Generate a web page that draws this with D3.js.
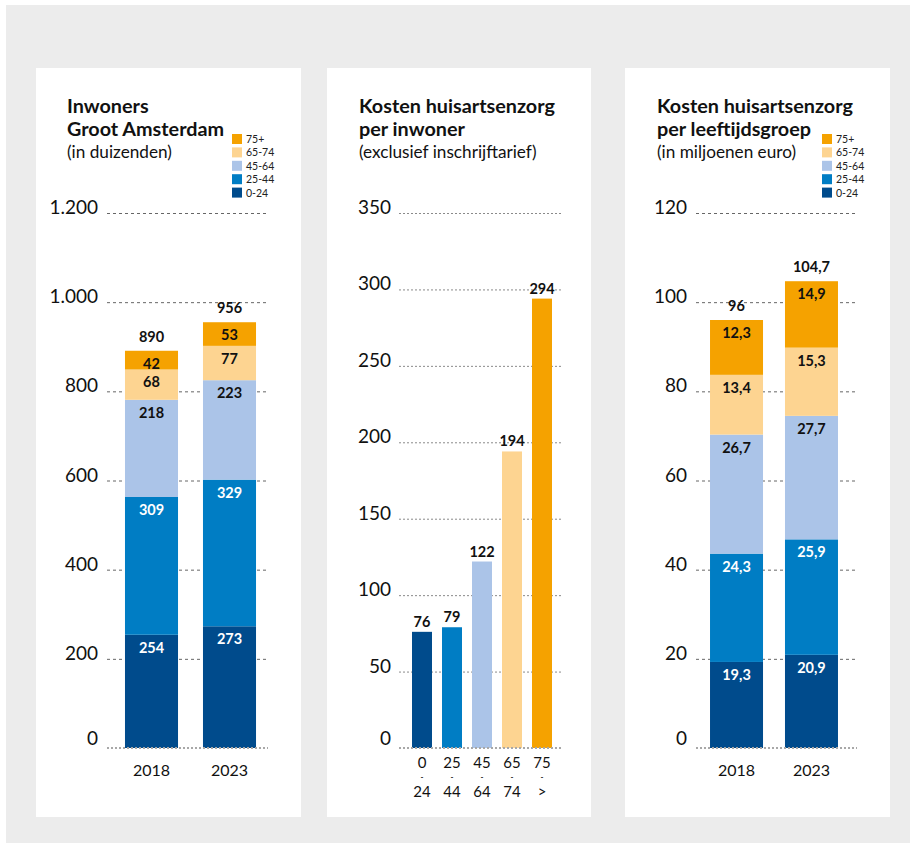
<!DOCTYPE html>
<html>
<head>
<meta charset="utf-8">
<script src="https://cdn.jsdelivr.net/npm/d3@7/dist/d3.min.js"></script>
<style>
  html, body { margin: 0; padding: 0; background: #fff; }
  svg { display: block; font-family: Lato, "Open Sans", sans-serif; }
</style>
</head>
<body>
<svg id="chart" width="910" height="843"></svg>
<script>
// ---------- DATA ----------
const ageGroups = ["0-24", "25-44", "45-64", "65-74", "75+"];
const years = ["2018", "2023"];

// Panel 1: Inwoners Groot Amsterdam (in duizenden)
const inwoners2018 = [254, 309, 218, 68, 42];
const inwoners2023 = [273, 329, 223, 77, 53];
const inwonersTotals = [890, 956];
const inwonersTicks = [0, 200, 400, 600, 800, 1000, 1200];

// Panel 2: Kosten huisartsenzorg per inwoner
const kostenPerInwoner = [76, 79, 122, 194, 294];
const perInwonerLabels = [["0", "24"], ["25", "44"], ["45", "64"], ["65", "74"], ["75", ">"]];
const perInwonerTicks = [0, 50, 100, 150, 200, 250, 300, 350];

// Panel 3: Kosten per leeftijdsgroep (in miljoenen euro)
const kosten2018 = [19.3, 24.3, 26.7, 13.4, 12.3];
const kosten2023 = [20.9, 25.9, 27.7, 15.3, 14.9];
const kostenTotals = [96, 104.7];
const kostenTicks = [0, 20, 40, 60, 80, 100, 120];

// ---------- STYLE ----------
const colors = {"0-24": "#004b8c", "25-44": "#007dc4", "45-64": "#abc4e8", "65-74": "#fdd491", "75+": "#f5a200"};
const labelColor = {"0-24": "#fff", "25-44": "#fff", "45-64": "#111", "65-74": "#111", "75+": "#111"};

const nl = d3.formatLocale({decimal: ",", thousands: ".", grouping: [3], currency: ["€", ""]});
const fmtInt = nl.format(",d");
const fmtDec = nl.format(",.1f");
const fmtTot = nl.format(",.1~f");

const svg = d3.select("#chart");

// background
svg.append("rect").attr("x", 6).attr("y", 5).attr("width", 904).attr("height", 838).attr("fill", "#ececec");

const panels = [{x: 36, w: 265}, {x: 327, w: 264}, {x: 625, w: 265}];
panels.forEach(p => svg.append("rect").attr("x", p.x).attr("y", 68).attr("width", p.w).attr("height", 749).attr("fill", "#fff"));

const y0 = 748, yTop = 213;

function titles(x, lines, sub) {
  const g = svg.append("g");
  lines.forEach((t, i) => g.append("text").attr("x", x).attr("y", 113 + i * 23)
    .attr("font-size", 19.8).attr("font-weight", 700).attr("fill", "#111").text(t));
  g.append("text").attr("x", x).attr("y", 158).attr("font-size", 17.2).attr("fill", "#111").text(sub);
}

function legend(x) {
  const g = svg.append("g");
  const order = ageGroups.slice().reverse();
  order.forEach((a, i) => {
    const cy = 139 + i * 13.4;
    g.append("rect").attr("x", x).attr("y", cy - 5).attr("width", 10).attr("height", 10).attr("fill", colors[a]);
    g.append("text").attr("x", x + 14).attr("y", cy + 4).attr("font-size", 10.5).attr("fill", "#222").text(a);
  });
}

// gridlines (behind bars) + tick labels; returns a function to draw the zero line on top
function grid(y, ticks, gx0, gx1, labelX, fmt, dash, color) {
  const g = svg.append("g");
  ticks.forEach(t => {
    const yy = y(t);
    if (t !== 0) {
      g.append("line").attr("x1", gx0).attr("x2", gx1).attr("y1", yy + 0.5).attr("y2", yy + 0.5)
        .attr("stroke", color).attr("stroke-width", 1).attr("stroke-dasharray", dash);
    }
    g.append("text").attr("x", labelX).attr("y", yy + (t === 0 ? -3 : 1)).attr("text-anchor", "end")
      .attr("font-size", 19).attr("fill", "#111").text(fmt(t));
  });
  return () => svg.append("line").attr("x1", gx0).attr("x2", gx1).attr("y1", y(0)).attr("y2", y(0))
    .attr("stroke", "#a8a8a8").attr("stroke-width", 2).attr("stroke-dasharray", "2,2");
}

function stacked(xRange, pad, outer, yDomainMax, gx0, gx1, labelX, ticks, fmtTick, series, totals, fmtVal) {
  const y = d3.scaleLinear().domain([0, yDomainMax]).range([y0, yTop]);
  const x = d3.scaleBand().domain(years).range(xRange).paddingInner(pad).paddingOuter(outer);
  const drawZero = grid(y, ticks, gx0, gx1, labelX, fmtTick, "3,3", "#666");
  const rows = years.map((yr, i) => {
    const r = {year: yr};
    ageGroups.forEach((a, j) => r[a] = series[i][j]);
    return r;
  });
  const layers = d3.stack().keys(ageGroups)(rows);
  const g = svg.append("g");
  layers.forEach(layer => {
    layer.forEach(d => {
      g.append("rect").attr("x", x(d.data.year)).attr("width", x.bandwidth())
        .attr("y", y(d[1])).attr("height", y(d[0]) - y(d[1])).attr("fill", colors[layer.key]);
    });
  });
  drawZero();
  layers.forEach(layer => {
    layer.forEach(d => {
      g.append("text").attr("x", x(d.data.year) + x.bandwidth() / 2).attr("y", y(d[1]) + 18)
        .attr("text-anchor", "middle").attr("font-size", 14.5).attr("font-weight", 700)
        .attr("fill", labelColor[layer.key]).text(fmtVal(d[1] - d[0]));
    });
  });
  years.forEach((yr, i) => {
    const top = layers[layers.length - 1][i][1];
    g.append("text").attr("x", x(yr) + x.bandwidth() / 2).attr("y", y(top) - 9)
      .attr("text-anchor", "middle").attr("font-size", 14.5).attr("font-weight", 700).attr("fill", "#111")
      .text(fmtTot(totals[i]));
    g.append("text").attr("x", x(yr) + x.bandwidth() / 2).attr("y", 776)
      .attr("text-anchor", "middle").attr("font-size", 16).attr("fill", "#111").text(yr);
  });
}

// ---- Panel 1 ----
titles(67, ["Inwoners", "Groot Amsterdam"], "(in duizenden)");
legend(232);
stacked([112.5, 268.5], 0.32, 0.16, 1200, 107, 268, 98, inwonersTicks, fmtInt,
  [inwoners2018, inwoners2023], inwonersTotals, v => fmtInt(Math.round(v)));

// ---- Panel 2 ----
titles(359, ["Kosten huisartsenzorg", "per inwoner"], "(exclusief inschrijftarief)");
(function () {
  const y = d3.scaleLinear().domain([0, 350]).range([y0, yTop]);
  const x = d3.scaleBand().domain(ageGroups).range([407, 557]).paddingInner(1 / 3).paddingOuter(1 / 6);
  const drawZero = grid(y, perInwonerTicks, 399, 561, 391, fmtInt, "2,2", "#8a8a8a");
  const g = svg.append("g");
  ageGroups.forEach((a, i) => {
    const v = kostenPerInwoner[i];
    g.append("rect").attr("x", x(a)).attr("width", x.bandwidth()).attr("y", y(v))
      .attr("height", y(0) - y(v)).attr("fill", colors[a]);
  });
  drawZero();
  ageGroups.forEach((a, i) => {
    const v = kostenPerInwoner[i];
    const cx = x(a) + x.bandwidth() / 2;
    g.append("text").attr("x", cx).attr("y", y(v) - 5).attr("text-anchor", "middle")
      .attr("font-size", 14.5).attr("font-weight", 700).attr("fill", "#111").text(fmtInt(v));
    const lbl = perInwonerLabels[i];
    g.append("text").attr("x", cx).attr("y", 768).attr("text-anchor", "middle")
      .attr("font-size", 15).attr("fill", "#111").text(lbl[0]);
    g.append("text").attr("x", cx).attr("y", 780).attr("text-anchor", "middle")
      .attr("font-size", 8).attr("font-weight", 700).attr("fill", "#111").text("-");
    g.append("text").attr("x", cx).attr("y", 797).attr("text-anchor", "middle")
      .attr("font-size", 15).attr("fill", "#111").text(lbl[1]);
  });
})();

// ---- Panel 3 ----
titles(657, ["Kosten huisartsenzorg", "per leeftijdsgroep"], "(in miljoenen euro)");
legend(822);
stacked([699, 849], 0.293, 0.147, 120, 696, 857, 687, kostenTicks, fmtInt,
  [kosten2018, kosten2023], kostenTotals, v => fmtDec(v));
</script>
</body>
</html>
